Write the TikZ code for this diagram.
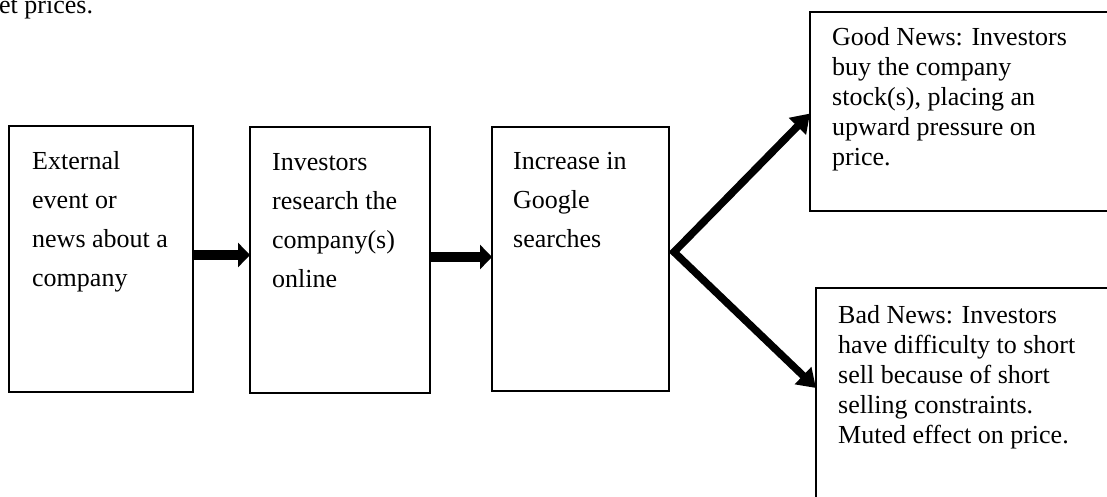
\documentclass[tikz,border=0pt]{standalone}
\usepackage{fontspec}
\setmainfont{Liberation Serif}
\usepackage{tikz}
\usetikzlibrary{arrows.meta}
\usetikzlibrary{positioning}
\def\boxline{1.2pt}
\tikzset{
stage/.style 2 args={draw, line width=\boxline, anchor=north west, inner sep=0pt, outer sep=0pt,
	minimum width=#1, minimum height=#2},
talltext/.style={anchor=north west, inner sep=0pt, align=left,
	font=\fontsize{26}{39}\selectfont},
shorttext/.style={anchor=north west, inner sep=0pt, align=left,
	font=\fontsize{26}{30}\selectfont},
fat/.style={line width=10pt, -{Triangle[width=24pt,length=12pt]}},
slim/.style={line width=7.5pt, line join=miter,
	{Triangle[width=23pt,length=18pt]}-{Triangle[width=23pt,length=18pt]}},
}
\begin{document}
\begin{tikzpicture}[x=1pt, y=-1pt]
\useasboundingbox (0,0) rectangle (1107,496);
\node[anchor=base west, inner sep=0pt, font=\fontsize{26}{30}\selectfont] (cut) at (-1,13.5) {et prices.};

%
\node[stage={184pt}{266pt}] (ext) at (9,126) {};
\node[stage={180pt}{266pt}] (res) at (250,127) {};
\node[stage={177pt}{264pt}] (srch) at (492,127) {};
\node[stage={305pt}{199pt}] (good) at (810,12) {};
\node[stage={300pt}{222pt}] (bad) at (816,288) {};

%
\node[talltext] (exttxt) at ([xshift=23pt,yshift=-25pt]ext.north west)
	{External\\event or\\news about a\\company};
\node[talltext] (restxt) at ([xshift=22pt,yshift=-26pt]res.north west)
	{Investors\\research the\\company(s)\\online};
\node[talltext] (srchtxt) at ([xshift=21pt,yshift=-25pt]srch.north west)
	{Increase in\\Google\\searches};
\node[shorttext] (goodtxt) at ([xshift=22pt,yshift=-15pt]good.north west)
	{Good News: Investors\\buy the company\\stock(s), placing an\\upward pressure on\\price.};
\node[shorttext] (badtxt) at ([xshift=22pt,yshift=-17pt]bad.north west)
	{Bad News: Investors\\have difficulty to short\\sell because of short\\selling constraints.\\Muted effect on price.};

%
\draw[fat] ([yshift=4pt]ext.east) -- ([yshift=4pt]ext.east -| res.west);
\draw[fat] ([yshift=3pt]res.east) -- ([yshift=3pt]res.east -| srch.west);

%
\coordinate (fork) at (674,252);
\draw[slim] ([yshift=-2pt]good.west) -- (fork) -- ([yshift=-100pt]bad.north west);
\end{tikzpicture}
\end{document}
